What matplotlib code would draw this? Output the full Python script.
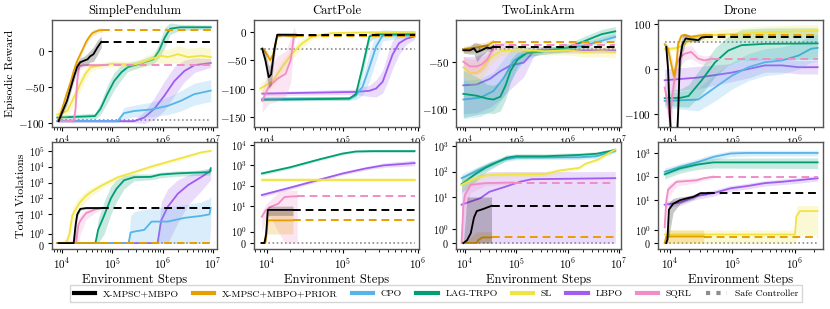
import numpy as np
import matplotlib.pyplot as plt
import matplotlib.transforms as mtransforms
from matplotlib.lines import Line2D
from matplotlib.ticker import NullLocator, NullFormatter

plt.rcParams['font.family'] = 'cmr10'
plt.rcParams['mathtext.fontset'] = 'cm'
plt.rcParams['axes.formatter.use_mathtext'] = True

# ---------------- data: (steps, mean, halfwidth) for rewards ----------------
sp_r_mpsc = [(8.5e3,-97,2),(1.0e4,-85,4),(1.25e4,-69,6),(1.5e4,-50,6),(1.7e4,-37,6),(2.0e4,-22,6),(2.3e4,-16,6),
             (2.7e4,-14,6),(3.2e4,-12,8),(3.6e4,-8,8),(4.2e4,-5,10),(5e4,4,10),(6e4,12,8)]
sp_r_prior = [(8.5e3,-95,3),(1.0e4,-80,4),(1.2e4,-62,5),(1.5e4,-42,5),(1.7e4,-28,5),(2.0e4,-14,5),(2.5e4,0,4),
              (3.0e4,12,4),(3.4e4,18,4),(4.0e4,24,4),(4.6e4,26,4),(5.5e4,28,3),(6.3e4,28,3)]
sp_r_sqrl = [(8.5e3,-97,1),(1.3e4,-97,1),(1.7e4,-96,4),(1.85e4,-80,15),(2.0e4,-40,20),(2.2e4,-21,6),(3e4,-20,2),
             (4e4,-20,2),(6e4,-20,1)]
sp_r_sl = [(8e3,-88,8),(1.26e4,-83,8),(1.7e4,-65,10),(2.3e4,-46,10),(2.9e4,-32,8),(3.7e4,-23,6),(5e4,-21,4),
           (1e5,-18,4),(2.7e5,-19,5),(3.7e5,-17,6),(5.8e5,-12,8),(9.3e5,-7,10),(1.26e6,-9,10),(2e6,-5,12),
           (3.2e6,-9,12),(5.8e6,-7,12),(9e6,-9,12)]
sp_r_lag = [(8e3,-92,3),(4.5e4,-90,4),(5.8e4,-80,8),(7.9e4,-60,12),(1.08e5,-42,12),(1.5e5,-30,10),(2e5,-23,6),
            (3.5e5,-18,5),(6.5e5,-12,6),(8.5e5,0,10),(1.1e6,18,14),(1.4e6,30,8),(2.2e6,32,4),(9e6,32,3)]
sp_r_cpo = [(8e3,-97,1),(1.26e5,-97,2),(1.7e5,-86,8),(2.7e5,-83,8),(5.8e5,-81,10),(1.26e6,-76,12),
            (2.3e6,-69,14),(4.2e6,-60,15),(9e6,-55,15)]
sp_r_lbpo = [(8e3,-97,1),(2.7e5,-97,2),(4.3e5,-92,8),(6.8e5,-80,15),(1.08e6,-62,20),(1.7e6,-42,20),
             (2.7e6,-28,15),(4.3e6,-20,10),(9e6,-17,6)]
sp_r_safe = -95

cp_r_mpsc = [(8.6e3,-30,5),(9.5e3,-50,15),(1.05e4,-80,20),(1.13e4,-75,20),(1.25e4,-30,15),(1.36e4,-5,3),(2.4e4,-5,2)]
cp_r_prior = [(8.6e3,-29,3),(9.5e3,-35,5),(1.1e4,-50,8),(1.2e4,-40,8),(1.36e4,-8,4),(1.6e4,-6,2),(2.4e4,-8,2)]
cp_r_sqrl = [(8.6e3,-122,20),(1.05e4,-97,30),(1.36e4,-83,40),(1.76e4,-74,40),(2.05e4,-50,40),(2.27e4,-6,15),
             (2.4e4,-5,5)]
cp_r_sl = [(8.1e3,-100,10),(1.17e4,-88,10),(1.58e4,-62,12),(2.15e4,-38,10),(2.93e4,-20,8),(3.98e4,-8,5),
           (7.35e4,-2,3),(2e5,-1,2),(9e5,0,2)]
cp_r_lag = [(8.6e3,-120,2),(1.23e5,-118,3),(1.5e5,-110,5),(1.84e5,-62,15),(2.27e5,-8,10),(2.78e5,-4,5),(9e5,-5,3)]
cp_r_cpo = [(8.6e3,-118,3),(1.23e5,-117,3),(1.5e5,-112,8),(1.84e5,-97,15),(2.27e5,-62,25),(2.78e5,-26,25),
            (3.4e5,-6,10),(9e5,-3,4)]
cp_r_lbpo = [(8.6e3,-109,3),(1.5e5,-106,5),(2.27e5,-104,10),(2.78e5,-100,15),(3.4e5,-88,20),(4e5,-62,25),
             (4.6e5,-40,25),(5.6e5,-20,20),(7e5,-12,10),(9e5,-8,5)]
cp_r_safe = -30

tla_r_mpsc = [(9.3e3,-38,3),(1.25e4,-38,4),(1.5e4,-36,6),(1.7e4,-40,10),(2.1e4,-38,6),(2.7e4,-35,4),
              (3.1e4,-36,3),(3.6e4,-34,3)]
tla_r_prior = [(9.3e3,-37,3),(1.25e4,-36,4),(1.7e4,-35,4),(2.7e4,-33,4),(3.6e4,-29,3)]
tla_r_sqrl = [(9.3e3,-50,6),(1.25e4,-55,8),(1.7e4,-55,8),(2.1e4,-53,8),(2.7e4,-48,6),(3.1e4,-42,5),(4e4,-32,4)]
tla_r_sl = [(9.3e3,-56,10),(1.25e4,-62,12),(1.7e4,-62,12),(2.1e4,-58,10),(3.1e4,-46,8),(4.9e4,-39,5),
            (1.05e5,-37,4),(3.5e5,-39,4),(1e6,-38,5),(2.2e6,-40,5),(4.6e6,-39,6),(8.5e6,-40,6)]
tla_r_lag = [(9.3e3,-84,25),(1.7e4,-86,20),(2.7e4,-89,15),(3.6e4,-90,15),(4.9e4,-87,15),(6.2e4,-75,15),
             (7.7e4,-60,12),(1.05e5,-48,8),(1.6e5,-41,4),(3.5e5,-39,3),(1e6,-35,4),(2.2e6,-28,5),
             (4.6e6,-21,5),(8.5e6,-18,5)]
tla_r_cpo = [(9.3e3,-90,20),(2e4,-88,20),(3.6e4,-81,20),(5.7e4,-67,20),(9e4,-49,15),(1.4e5,-42,8),
             (2.6e5,-39,4),(1e6,-36,4),(2.2e6,-33,4),(4.6e6,-28,4),(8.5e6,-24,4)]
tla_r_lbpo = [(9.3e3,-75,30),(1.7e4,-74,30),(3.1e4,-68,30),(4.9e4,-60,30),(7.7e4,-54,25),(1.4e5,-51,15),
              (2.2e5,-39,5),(3.5e5,-37,3),(1e6,-38,3),(8.5e6,-38,3)]
tla_r_safe = -37

dr_r_mpsc = [(8.8e3,49,10),(9.4e3,0,30),(1.0e4,-100,40),(1.1e4,-200,40),(1.25e4,-200,40),(1.36e4,-100,40),
             (1.45e4,20,30),(1.6e4,55,20),(1.8e4,68,8),(2.2e4,66,5),(2.85e4,64,5),(3.2e4,70,4),(3.6e4,71,3)]
dr_r_prior = [(8.3e3,55,5),(9.4e3,45,10),(1.06e4,10,20),(1.17e4,-15,20),(1.28e4,10,20),(1.36e4,55,15),
              (1.54e4,74,5),(1.74e4,76,4),(2.2e4,72,3),(3.6e4,76,3)]
dr_r_sqrl = [(8.3e3,-41,20),(9.4e3,-80,40),(1.0e4,-110,40),(1.1e4,-60,40),(1.28e4,10,30),(1.45e4,26,20),
             (1.74e4,34,15),(2.2e4,38,15),(2.85e4,23,10),(3.6e4,19,10),(4.7e4,23,8)]
dr_r_sl = [(8.3e3,44,5),(1.2e4,46,5),(1.5e4,50,6),(2e4,62,8),(2.5e4,70,8),(3.6e4,74,10),(1e5,78,12),
           (4e5,82,14),(2.3e6,85,14)]
dr_r_lag = [(8.3e3,-65,15),(1.5e4,-64,20),(2e4,-60,25),(3.2e4,-26,30),(5.3e4,15,32),(8.6e4,41,32),
            (1.4e5,53,35),(3.3e5,56,35),(2.3e6,57,35)]
dr_r_cpo = [(8.3e3,-71,15),(2.85e4,-68,25),(5.3e4,-41,30),(9.8e4,-15,30),(1.8e5,4,30),(3.3e5,15,30),
            (6.2e5,19,30),(1.14e6,30,30),(1.8e6,45,30),(2.3e6,47,30)]
dr_r_lbpo = [(8.3e3,-25,25),(2.85e4,-19,25),(9.8e4,-8,20),(1.8e5,0,20),(3.3e5,8,15),(6.2e5,8,15),
             (1.14e6,4,15),(2.3e6,4,15)]
dr_r_safe = 60

# ---------------- data: (steps, mean, low, high) for violations ----------------
sp_v_mpsc = [(8.5e3,0,0,0),(1.7e4,0,0,0),(1.85e4,2,0.5,5),(2e4,10,6,15),(2.3e4,22,18,26),(3e4,25,22,28),(6e4,25,22,28)]
sp_v_prior = [(8e3,0,0,0),(6e4,0,0,0)]
sp_v_sqrl = [(8.5e3,0,0,0),(1.9e4,0,0,0.5),(2.1e4,2,0,6),(2.3e4,4,1,10),(3e4,12,5,22),(4.5e4,20,12,28),(6e4,25,20,30)]
sp_v_sl = [(8e3,0,0,0),(1.2e4,0,0,0.5),(1.4e4,1,0,3),(1.6e4,9,2,25),(2e4,30,10,80),(2.3e4,60,25,130),
           (3e4,150,70,300),(3.7e4,250,130,450),(6e4,630,400,1000),(1.3e5,2200,1500,3000),(2.7e5,4500,3300,6000),
           (5.8e5,1e4,7500,1.3e4),(1.25e6,2e4,1.5e4,2.6e4),(2.7e6,4e4,3e4,5e4),(5.8e6,8e4,6.5e4,9.5e4),
           (9e6,1e5,8e4,1.2e5)]
sp_v_lag = [(8e3,0,0,0),(4.6e4,0,0,0),(5.2e4,1.5,0,5),(6.8e4,8,1,60),(9.3e4,100,10,600),(1.2e5,400,60,1500),
            (1.7e5,1400,400,2800),(2.7e5,2200,1300,3500),(5.8e5,2300,1500,3500),(9e5,3200,2000,4500),
            (1.9e6,3800,2500,5500),(5e6,4300,2800,6000),(8.5e6,4500,3000,8000),(9e6,8000,4000,1.1e4)]
sp_v_cpo = [(8e3,0,0,0),(2.1e5,0,0,0),(2.3e5,1.2,0,8),(2.7e5,1.3,0,15),(4.3e5,1.5,0,20),(6e5,3.5,0,25),
            (1.26e6,3.5,0,30),(2.7e6,6,0,40),(5.8e6,8,0,60),(8.5e6,10,0,100),(9e6,25,2,150)]
sp_v_lbpo = [(8e3,0,0,0),(7.9e5,0,0,0),(9.3e5,4,0,60),(1.26e6,30,0,400),(2e6,200,3,1500),(3.2e6,700,40,3000),
             (5.8e6,2200,300,5000),(9e6,5600,1500,8000)]

cp_v_mpsc = [(8.5e3,0,0,0),(9.2e3,0,0,0),(9.7e3,0.8,0.3,1.5),(1.02e4,6.5,3.5,10),(2.2e4,6.5,3.5,10)]
cp_v_prior = [(8.5e3,0,0,0),(9.5e3,0,0,0),(1.02e4,2,0.8,6),(2.2e4,2,0.8,6)]
cp_v_sqrl = [(8.5e3,3,1,5),(9.5e3,6,2,12),(1.1e4,9,3,20),(1.4e4,13,1,45),(1.7e4,28,0,60),(2.2e4,30,0,60),(2.5e4,30,0,60)]
cp_v_sl = [(8.5e3,200,160,250),(9e5,200,160,250)]
cp_v_lag = [(8.5e3,400,330,480),(2e4,800,680,950),(5e4,2000,1750,2300),(1e5,3800,3300,4300),(1.5e5,4800,4200,5400),
            (2.5e5,5000,4300,5800),(9e5,5000,4300,5800)]
cp_v_cpo = []  # not visible in this panel
cp_v_lbpo = [(8.5e3,35,28,42),(2e4,80,65,95),(5e4,200,170,240),(1e5,400,340,470),(2e5,700,580,850),
             (3.5e5,1000,800,1300),(5e5,1100,850,1500),(9e5,1300,950,1800)]

tla_v_mpsc = [(9.3e3,0,0,0),(1.1e4,0.2,0,10),(1.3e4,0.7,0,10),(1.5e4,1.8,0,10),(1.7e4,2.8,0,10),(2.2e4,3.3,0,10),
              (3.3e4,4.5,0,10)]
tla_v_prior = [(9.3e3,0,0,0),(1.7e4,0,0,0.8),(1.8e4,0.2,0,0.8),(2.2e4,0.4,0,0.8),(3.3e4,0.4,0,0.8)]
tla_v_sqrl = [(8.6e3,0,0,0.5),(9.3e3,4.5,0,15),(1e4,12,2,25),(1.3e4,30,15,40),(2.5e4,35,28,42),(9e4,37,32,42)]
tla_v_sl = [(8.6e3,30,20,45),(1.6e4,55,40,70),(2.5e4,70,55,90),(4.5e4,75,60,95),(3.6e5,80,65,100),(7e5,110,90,130),
            (1.7e6,140,120,160),(2.2e6,200,170,230),(4e6,300,260,340),(7e6,600,520,680),(8.5e6,720,640,800)]
tla_v_lag = [(8.6e3,32,15,60),(1.6e4,80,40,130),(2.5e4,140,90,200),(4e4,220,160,300),(6.5e4,350,280,450),
             (1e5,400,320,500),(3.6e5,400,330,500),(1.7e6,450,380,550),(3.7e6,500,420,600),(7e6,650,550,750),
             (8.5e6,720,600,820)]
tla_v_cpo = [(8.6e3,55,35,80),(1.6e4,100,70,140),(3.3e4,200,150,260),(6e4,300,240,370),(1e5,360,290,430),
             (1.7e6,360,300,430),(3.7e6,400,330,470),(7e6,580,480,680),(8.5e6,650,550,750)]
tla_v_lbpo = [(8.6e3,5,0,30),(2e4,9,0,80),(3e4,16,0,100),(6e4,25,0,100),(1.2e5,40,0,100),(2e5,50,0,100),
              (8.5e6,55,0,100)]

dr_v_mpsc = [(8.8e3,0,0,0),(9.2e3,0.3,0,1),(9.7e3,4,0.5,8),(1.13e4,7,3,12),(1.45e4,10,7,14),(1.86e4,12,9,15),
             (2.4e4,14,11,17),(3.1e4,20,17,23),(3.9e4,20,17,23)]
dr_v_prior = [(8.3e3,0,0,0),(8.8e3,0.5,0,1),(3.5e4,0.5,0,1)]
dr_v_sqrl = [(8.3e3,1.2,0,3),(8.8e3,9,2,20),(9.4e3,28,12,45),(1.28e4,60,40,80),(2.7e4,70,55,90),(3.5e4,85,70,100),
             (5e4,100,85,115)]
dr_v_sl = [(8.3e3,0.65,0,1),(1e6,0.65,0,1),(1.05e6,2,0,5),(1.1e6,2.5,0.5,6),(1.2e6,3.5,0.6,6),(2.3e6,3.5,0.6,6)]
dr_v_lag = [(8.3e3,125,80,180),(1.45e4,220,140,320),(2.7e4,320,200,460),(5e4,400,230,600),(2.3e6,400,220,620)]
dr_v_cpo = [(8.3e3,160,110,230),(1.45e4,250,180,350),(2.7e4,400,290,550),(5e4,680,500,900),(9.4e4,950,700,1250),
            (1.75e5,1000,750,1300),(2.3e6,1000,750,1300)]
dr_v_lbpo = [(8.3e3,6.5,5,9),(1.45e4,8,6,11),(2.7e4,15,11,20),(5e4,20,15,27),(9.4e4,32,24,42),(1.75e5,40,30,52),
             (3.3e5,53,40,68),(6e5,60,45,78),(1.1e6,70,52,90),(2.3e6,85,65,110)]

titles = ['SimplePendulum', 'CartPole', 'TwoLinkArm', 'Drone']
data_start = [8e3, 8.1e3, 8.6e3, 8.3e3]
data_end = [9e6, 9e5, 8.5e6, 2.3e6]
xlims = [(6.3e3, 1.2e7), (6.7e3, 1.03e6), (6.7e3, 1.1e7), (6.5e3, 2.8e6)]
x_decades = [[4, 5, 6, 7], [4, 5, 6], [4, 5, 6, 7], [4, 5, 6]]
rew_ylims = [(-105, 42), (-168, 21), (-119, -6), (-129, 109)]
rew_ticks = [[-100, -50, 0], [-150, -100, -50, 0], [-100, -50], [-100, 0, 100]]
vio_ylims = [(-0.67, 3.6e5), (-0.53, 1.4e4), (-0.42, 1.45e3), (-0.45, 2.9e3)]
vio_decades = [5, 4, 3, 3]

labels = ['X-MPSC+MBPO', 'X-MPSC+MBPO+PRIOR', 'CPO', 'LAG-TRPO', 'SL', 'LBPO', 'SQRL', 'Safe Controller']
colors = ['#000000', '#E69F00', '#56B4E9', '#009E73', '#F0E442', '#A05CF0', '#F28CC6', '#8C8C8C']

rewards = [
    [sp_r_mpsc, sp_r_prior, sp_r_cpo, sp_r_lag, sp_r_sl, sp_r_lbpo, sp_r_sqrl],
    [cp_r_mpsc, cp_r_prior, cp_r_cpo, cp_r_lag, cp_r_sl, cp_r_lbpo, cp_r_sqrl],
    [tla_r_mpsc, tla_r_prior, tla_r_cpo, tla_r_lag, tla_r_sl, tla_r_lbpo, tla_r_sqrl],
    [dr_r_mpsc, dr_r_prior, dr_r_cpo, dr_r_lag, dr_r_sl, dr_r_lbpo, dr_r_sqrl],
]
safe_rew = [sp_r_safe, cp_r_safe, tla_r_safe, dr_r_safe]
violations = [
    [sp_v_mpsc, sp_v_prior, sp_v_cpo, sp_v_lag, sp_v_sl, sp_v_lbpo, sp_v_sqrl],
    [cp_v_mpsc, cp_v_prior, cp_v_cpo, cp_v_lag, cp_v_sl, cp_v_lbpo, cp_v_sqrl],
    [tla_v_mpsc, tla_v_prior, tla_v_cpo, tla_v_lag, tla_v_sl, tla_v_lbpo, tla_v_sqrl],
    [dr_v_mpsc, dr_v_prior, dr_v_cpo, dr_v_lag, dr_v_sl, dr_v_lbpo, dr_v_sqrl],
]
dashed = {0, 1, 6}  # methods that stop early and get a dashed continuation
draw_order = [5, 2, 3, 4, 6, 1, 0]
zorders = {5: 2, 2: 3, 3: 4, 4: 5, 6: 6, 1: 7, 0: 8}

W, H = 830, 309
fig = plt.figure(figsize=(W / 100, H / 100), dpi=100)
lefts = [52, 254, 456, 658]
aw = 165


def style(ax, k):
    for s in ax.spines.values():
        s.set_color('#555555')
        s.set_linewidth(1.0)
    ax.set_xscale('log')
    ax.set_xlim(*xlims[k])
    ax.set_xticks([10.0 ** d for d in x_decades[k]])
    ax.set_xticklabels([r'$10^{%d}$' % d for d in x_decades[k]])
    ax.xaxis.set_minor_formatter(NullFormatter())
    ax.tick_params(labelsize=8, length=3, width=0.8, pad=2)
    ax.tick_params(which='minor', length=1.8, width=0.6)


def draw(ax, series, k, symlog):
    for i in draw_order:
        if not series[i]:
            continue
        a = np.array(series[i], dtype=float)
        x, y = a[:, 0], a[:, 1]
        if symlog:
            lo, hi = a[:, 2], a[:, 3]
        else:
            lo, hi = y - a[:, 2], y + a[:, 2]
        z = zorders[i]
        ax.fill_between(x, lo, hi, color=colors[i], alpha=0.22, lw=0, zorder=z)
        ax.plot(x, y, color=colors[i], lw=1.3, zorder=z + 0.5)
        if i in dashed:
            ax.plot([x[-1], data_end[k]], [y[-1], y[-1]], color=colors[i], lw=1.4,
                    ls=(0, (4, 2.5)), zorder=z + 0.5)


for k in range(4):
    # rewards
    ax = fig.add_axes([lefts[k] / W, (H - 127) / H, aw / W, 107 / H])
    style(ax, k)
    ax.set_title(titles[k], fontsize=9, pad=4)
    draw(ax, rewards[k], k, False)
    ax.plot([data_start[k], data_end[k]], [safe_rew[k]] * 2, color=colors[7], lw=1.2, ls=(0, (1, 1.5)), zorder=1)
    ax.set_ylim(*rew_ylims[k])
    ax.set_yticks(rew_ticks[k])
    if k == 0:
        ax.set_ylabel('Episodic Reward', fontsize=8.5, labelpad=2)

    # violations
    ax = fig.add_axes([lefts[k] / W, (H - 249) / H, aw / W, 107 / H])
    style(ax, k)
    ax.set_yscale('symlog', linthresh=2, linscale=1)
    draw(ax, violations[k], k, True)
    ax.plot([data_start[k], data_end[k]], [0, 0], color=colors[7], lw=1.2, ls=(0, (1, 1.5)), zorder=1)
    ax.set_ylim(*vio_ylims[k])
    yt = [0] + [10.0 ** d for d in range(vio_decades[k] + 1)]
    ax.set_yticks(yt)
    ax.set_yticklabels([r'$0$'] + [r'$10^{%d}$' % d for d in range(vio_decades[k] + 1)])
    ax.yaxis.set_minor_locator(NullLocator())
    ax.tick_params(axis='y', labelsize=7.3)
    if k == 0:
        # the 0 and 10^0 ticks sit close together here; nudge them apart a little
        tl = ax.get_yticklabels()
        tl[0].set_transform(tl[0].get_transform() + mtransforms.ScaledTranslation(0, -1.5 / 72, fig.dpi_scale_trans))
        tl[1].set_transform(tl[1].get_transform() + mtransforms.ScaledTranslation(0, 1.0 / 72, fig.dpi_scale_trans))
    ax.set_xlabel('Environment Steps', fontsize=9, labelpad=2)
    if k == 0:
        ax.set_ylabel('Total Violations', fontsize=8.5, labelpad=2)

handles = [Line2D([], [], color=c, lw=3) for c in colors[:7]]
handles.append(Line2D([], [], color=colors[7], lw=3, ls=(0, (1, 1.5))))
fig.legend(handles, labels, loc='center', bbox_to_anchor=(436 / W, 1 - 293.5 / H), ncol=8, fontsize=7,
           frameon=True, handlelength=2.2, columnspacing=1.45, handletextpad=0.8, borderpad=0.4,
           edgecolor='#cccccc', fancybox=False)

fig.savefig('out.png', dpi=100)
